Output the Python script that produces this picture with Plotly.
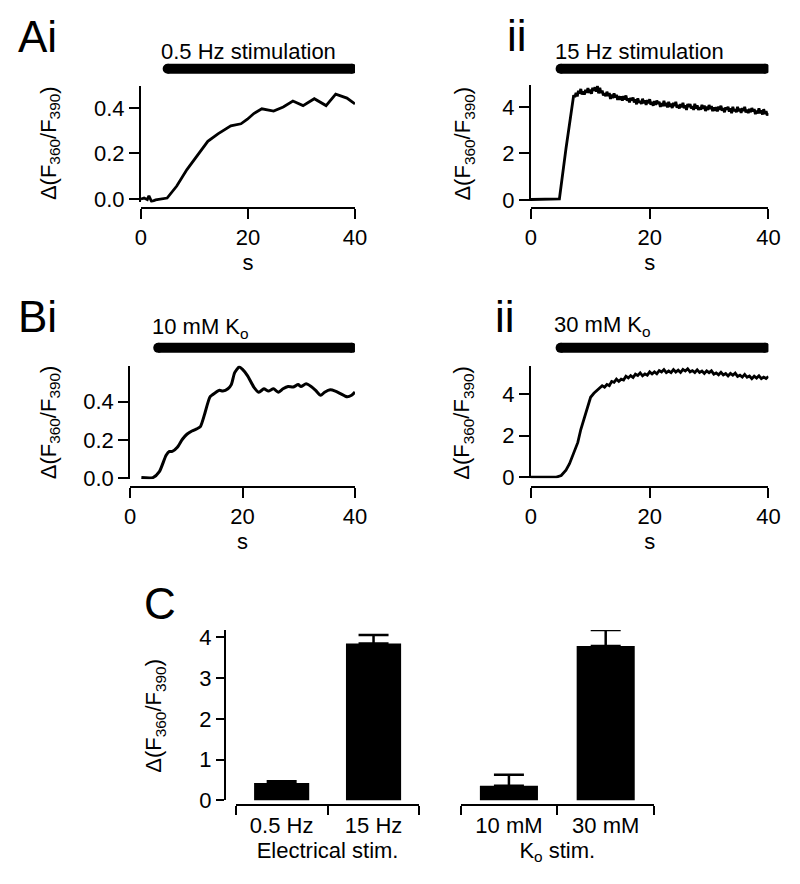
import plotly.graph_objects as go

# ---------------- data ----------------
# Ai: 0.5 Hz stimulation
t_ai = [0.0, 0.6, 1.2, 1.5, 2.0, 2.75, 4.9, 6.7, 8.6, 10.7, 12.5, 14.4, 15.3, 16.8, 18.7,
        19.9, 21.1, 22.6, 24.8, 26.6, 28.4, 30.3, 32.4, 34.6, 36.4, 38.5, 40.0]
v_ai = [0.0, 0.004, -0.003, 0.014, -0.011, -0.004, 0.004, 0.057, 0.129, 0.193, 0.253, 0.286,
        0.30, 0.321, 0.33, 0.35, 0.375, 0.396, 0.386, 0.404, 0.43, 0.41, 0.44, 0.41, 0.46,
        0.443, 0.417]

# Aii: 15 Hz stimulation
t_aii = [0.0, 1.0, 2.0, 3.0, 4.0, 4.8, 5.9,
         7.2, 7.4, 7.6, 7.8, 8.0, 8.2, 8.4, 8.6, 8.8, 9.0, 9.2, 9.4, 9.6, 9.8, 10.0, 10.2,
         10.4, 10.6, 10.8, 11.0, 11.2, 11.4, 11.6, 11.8, 12.0, 12.2, 12.4, 12.6, 12.8, 13.0,
         13.2, 13.4, 13.6, 13.8, 14.0, 14.2, 14.4, 14.6, 14.8, 15.0, 15.2, 15.4, 15.6, 15.8,
         16.0, 16.2, 16.4, 16.6, 16.8, 17.0, 17.2, 17.4, 17.6, 17.8, 18.0, 18.2, 18.4, 18.6,
         18.8, 19.0, 19.2, 19.4, 19.6, 19.8, 20.0, 20.2, 20.4, 20.6, 20.8, 21.0, 21.2, 21.4,
         21.6, 21.8, 22.0, 22.2, 22.4, 22.6, 22.8, 23.0, 23.2, 23.4, 23.6, 23.8, 24.0, 24.2,
         24.4, 24.6, 24.8, 25.0, 25.2, 25.4, 25.6, 25.8, 26.0, 26.2, 26.4, 26.6, 26.8, 27.0,
         27.2, 27.4, 27.6, 27.8, 28.0, 28.2, 28.4, 28.6, 28.8, 29.0, 29.2, 29.4, 29.6, 29.8,
         30.0, 30.2, 30.4, 30.6, 30.8, 31.0, 31.2, 31.4, 31.6, 31.8, 32.0, 32.2, 32.4, 32.6,
         32.8, 33.0, 33.2, 33.4, 33.6, 33.8, 34.0, 34.2, 34.4, 34.6, 34.8, 35.0, 35.2, 35.4,
         35.6, 35.8, 36.0, 36.2, 36.4, 36.6, 36.8, 37.0, 37.2, 37.4, 37.6, 37.8, 38.0, 38.2,
         38.4, 38.6, 38.8, 39.0, 39.2, 39.4, 39.6, 39.8, 40.0]
v_aii = [0.02, 0.03, 0.04, 0.04, 0.05, 0.05, 2.2,
         4.50, 4.42, 4.60, 4.45, 4.69, 4.58, 4.77, 4.53, 4.66, 4.53, 4.73, 4.61, 4.81, 4.60,
         4.74, 4.56, 4.82, 4.70, 4.84, 4.66, 4.90, 4.58, 4.82, 4.60, 4.70, 4.49, 4.59, 4.46,
         4.65, 4.47, 4.60, 4.34, 4.53, 4.38, 4.58, 4.41, 4.52, 4.30, 4.46, 4.30,
         4.45, 4.27, 4.46, 4.32, 4.49, 4.27, 4.36, 4.19, 4.39, 4.28, 4.40, 4.19, 4.32, 4.11,
         4.37, 4.18, 4.25, 4.13, 4.35, 4.16, 4.28, 4.08, 4.29, 4.16, 4.33, 4.09, 4.21, 4.05,
         4.25, 4.09, 4.27, 4.13, 4.22, 4.00, 4.16, 4.03, 4.26, 4.04, 4.17, 3.98,
         4.22, 4.01, 4.14, 3.95, 4.17, 4.04, 4.22, 3.96, 4.08, 3.93, 4.12, 3.98, 4.17, 3.94,
         4.07, 3.87, 4.12, 3.99, 4.12, 3.93, 4.03, 3.87, 4.13, 3.93, 4.06, 3.87, 3.98, 3.88,
         4.09, 3.92, 4.06, 3.82, 4.01, 3.87, 4.08, 3.91, 4.03, 3.82, 3.98, 3.83,
         3.99, 3.81, 4.01, 3.88, 4.05, 3.84, 3.94, 3.77, 3.98, 3.88, 4.00, 3.80, 3.94, 3.73,
         4.00, 3.82, 3.89, 3.77, 4.00, 3.81, 3.93, 3.74, 3.95, 3.82, 4.00, 3.76, 3.88, 3.73,
         3.92, 3.77, 3.95, 3.81, 3.90, 3.69, 3.84, 3.72, 3.94, 3.73, 3.85, 3.67,
         3.90, 3.70, 3.82, 3.63, 3.74]

# Bi: 10 mM Ko
t_bi = [2.0, 4.06, 5.2, 6.4, 7.0, 7.5, 8.4, 9.3, 10.1, 11.0, 11.9, 12.5, 13.3, 14.2, 15.1,
        15.9, 16.5, 17.4, 18.0, 18.6, 19.4, 20.0, 20.9, 22.0, 22.9, 23.8, 24.6, 25.5, 26.4,
        27.2, 28.1, 29.0, 29.9, 30.4, 31.3, 32.2, 33.0, 33.9, 34.6, 35.6, 36.5, 37.4, 38.6,
        39.4, 40.0]
v_bi = [0.003, 0.003, 0.034, 0.12, 0.14, 0.14, 0.162, 0.204, 0.23, 0.247, 0.259, 0.27, 0.34,
        0.425, 0.446, 0.46, 0.456, 0.468, 0.49, 0.553, 0.582, 0.57, 0.536, 0.477, 0.45, 0.468,
        0.456, 0.468, 0.45, 0.468, 0.48, 0.477, 0.49, 0.48, 0.494, 0.48, 0.46, 0.434, 0.45,
        0.463, 0.456, 0.443, 0.426, 0.434, 0.451]

# Bii: 30 mM Ko
t_bii = [0.0, 1.0, 2.0, 3.0, 4.0, 4.3, 5.1, 5.9, 6.5, 7.3, 7.9, 8.4, 9.0, 9.5, 10.05, 10.6,
         11.4,
         12.0, 12.4, 12.8, 13.2, 13.6, 14.0, 14.4, 14.8, 15.2, 15.6, 16.0, 16.4, 16.8, 17.2,
         17.6, 18.0, 18.4, 18.8, 19.2, 19.6, 20.0, 20.4, 20.8, 21.2, 21.6, 22.0, 22.4, 22.8,
         23.2, 23.6, 24.0, 24.4, 24.8, 25.2, 25.6, 26.0, 26.4, 26.8, 27.2, 27.6, 28.0, 28.4,
         28.8, 29.2, 29.6, 30.0, 30.4, 30.8, 31.2, 31.6, 32.0, 32.4, 32.8, 33.2, 33.6, 34.0,
         34.4, 34.8, 35.2, 35.6, 36.0, 36.4, 36.8, 37.2, 37.6, 38.0, 38.4, 38.8, 39.2, 39.6,
         40.0]
v_bii = [0.0, 0.0, 0.0, 0.0, 0.0, 0.0, 0.08, 0.34, 0.65, 1.2, 1.67, 2.29, 2.83, 3.38, 3.84,
         4.03, 4.23,
         4.39, 4.32, 4.45, 4.40, 4.60, 4.56, 4.71, 4.60, 4.71, 4.67, 4.85, 4.77, 4.88, 4.79,
         4.95, 4.89, 5.01, 4.87, 4.96, 4.90, 5.06, 4.96, 5.06, 4.97, 5.12, 5.05, 5.17, 5.02,
         5.10, 5.02, 5.17, 5.05, 5.14, 5.03, 5.18, 5.10, 5.21, 5.06, 5.12, 5.03, 5.16, 5.03,
         5.10, 4.98, 5.11, 5.02, 5.11, 4.95, 5.01, 4.92, 5.04, 4.91, 4.98, 4.86, 4.99, 4.90,
         5.00, 4.84, 4.90, 4.81, 4.94, 4.80, 4.86, 4.73, 4.85, 4.76, 4.87, 4.73, 4.81, 4.74,
         4.84]

# C: summary bars
elec_cats = ["0.5 Hz", "15 Hz"]
elec_means = [0.43, 3.85]
elec_err = [0.04, 0.21]
ko_cats = ["10 mM", "30 mM"]
ko_means = [0.36, 3.79]
ko_err = [0.27, 0.39]

stim_on = 5.0
stim_off = 39.5
stim_labels = ["0.5 Hz stimulation", "15 Hz stimulation",
               "10 mM K<sub>o</sub>", "30 mM K<sub>o</sub>"]
panel_letters = ["Ai", "ii", "Bi", "ii", "C"]
ytitle = "\u0394(F<sub>360</sub>/F<sub>390</sub>)"

# ---------------- layout helpers ----------------
W, H = 800, 884
FONT = "Liberation Sans, Arial, Helvetica, sans-serif"


def X(px):
    return px / W


def Y(py):
    return 1 - py / H


fig = go.Figure()

fig.add_trace(go.Scatter(x=t_ai, y=v_ai, mode="lines", line=dict(color="black", width=2.8),
                         xaxis="x", yaxis="y"))
fig.add_trace(go.Scatter(x=t_aii, y=v_aii, mode="lines", line=dict(color="black", width=2.8),
                         xaxis="x2", yaxis="y2"))
fig.add_trace(go.Scatter(x=t_bi, y=v_bi, mode="lines",
                         line=dict(color="black", width=3, shape="spline", smoothing=0.6),
                         xaxis="x3", yaxis="y3"))
fig.add_trace(go.Scatter(x=t_bii, y=v_bii, mode="lines", line=dict(color="black", width=2.8),
                         xaxis="x4", yaxis="y4"))

err_style = dict(type="data", symmetric=False, color="black", thickness=2.5, width=15)
fig.add_trace(go.Bar(x=elec_cats, y=elec_means, width=0.6,
                     marker=dict(color="black", line=dict(width=0)),
                     error_y=dict(array=elec_err, arrayminus=[0, 0], **err_style),
                     xaxis="x5", yaxis="y5"))
fig.add_trace(go.Bar(x=ko_cats, y=ko_means, width=0.6,
                     marker=dict(color="black", line=dict(width=0)),
                     error_y=dict(array=ko_err, arrayminus=[0, 0], **err_style),
                     xaxis="x6", yaxis="y6"))

axis_common = dict(showline=True, linecolor="black", linewidth=2, ticks="outside",
                   tickcolor="black", tickwidth=2, showgrid=False, zeroline=False,
                   tickfont=dict(size=22, color="black", family=FONT))

# panel geometry in pixels: (x_left, x_right, y_top, y_bottom, xaxis_line_y, yrange)
panels = [
    (138, 357, 83, 201.5, 207, [-0.015, 0.4946], [0, 0.2, 0.4], ".1f"),
    (537, 780, 82, 200, 207, [-0.042, 4.926], [0, 2, 4], "d"),
    (127, 357, 368, 484, 492, [-0.005, 0.59], [0, 0.2, 0.4], ".1f"),
    (537, 780, 368, 483, 492, [-0.047, 5.365], [0, 2, 4], "d"),
]
for i, (xl, xr, yt, yb, xline, yr, yt_vals, fmt) in enumerate(panels):
    n = "" if i == 0 else str(i + 1)
    fig.layout["xaxis" + n] = dict(
        domain=[X(xl), X(xr)], range=[0, 40], anchor="free", position=Y(xline),
        tickvals=[0, 20, 40], ticklen=10,
        title=dict(text="s", font=dict(size=22, color="black", family=FONT), standoff=4),
        **axis_common)
    fig.layout["yaxis" + n] = dict(
        domain=[Y(yb), Y(yt)], range=yr, anchor="x" + n, tickvals=yt_vals, tickformat=fmt,
        ticklen=10, **axis_common)

# panel C axes
fig.layout["yaxis5"] = dict(domain=[Y(812), Y(638)], range=[0, 4.18], anchor="free",
                            position=X(224), tickvals=[0, 1, 2, 3, 4], ticklen=8, **axis_common)
fig.layout["yaxis6"] = dict(domain=[Y(812), Y(638)], range=[0, 4.18], anchor="free",
                            position=X(224), overlaying="y5", visible=False)
fig.layout["xaxis5"] = dict(domain=[X(235), X(423)], anchor="free", position=Y(817),
                            type="category", tickson="boundaries", ticklen=9,
                            title=dict(text="Electrical stim.",
                                       font=dict(size=22, color="black", family=FONT), standoff=4),
                            **axis_common)
fig.layout["xaxis6"] = dict(domain=[X(465), X(663)], anchor="free", position=Y(817),
                            type="category", tickson="boundaries", ticklen=9,
                            title=dict(text="K<sub>o</sub> stim.",
                                       font=dict(size=22, color="black", family=FONT), standoff=4),
                            **axis_common)

# stimulation bars
shapes = []
for xref, ypx in [("x", 65), ("x2", 65), ("x3", 350), ("x4", 350)]:
    shapes.append(dict(type="line", xref=xref, yref="paper", x0=stim_on, x1=stim_off,
                       y0=Y(ypx), y1=Y(ypx), line=dict(color="black", width=10)))
    for xa in (stim_on, stim_off):
        shapes.append(dict(type="circle", xref=xref, yref="paper", xsizemode="pixel",
                           ysizemode="pixel", xanchor=xa, yanchor=Y(ypx), x0=-5, x1=5,
                           y0=-5, y1=5, fillcolor="black", line=dict(width=0)))
fig.update_layout(shapes=shapes)

annotations = []
# stimulation labels
for text, (xpx, ypx) in zip(stim_labels, [(157, 47), (560, 47), (147, 330), (559, 328)]):
    annotations.append(dict(text=text, x=X(xpx), y=Y(ypx), xref="paper", yref="paper",
                            xanchor="left", yanchor="middle", showarrow=False,
                            font=dict(size=22, color="black", family=FONT)))
# panel letters
for text, (xpx, ypx) in zip(panel_letters, [(10, 32), (510, 31), (10, 318), (498, 318), (139, 611)]):
    annotations.append(dict(text=text, x=X(xpx), y=Y(ypx), xref="paper", yref="paper",
                            xanchor="left", yanchor="middle", showarrow=False,
                            font=dict(size=44, color="black", family=FONT)))
# y titles
for xpx, ypx in [(45, 141), (469, 141), (45, 426), (468, 426), (153, 726)]:
    annotations.append(dict(text=ytitle, x=X(xpx), y=Y(ypx), xref="paper", yref="paper",
                            xanchor="center", yanchor="middle", textangle=-90, showarrow=False,
                            font=dict(size=22, color="black", family=FONT)))
fig.update_layout(annotations=annotations)

fig.update_layout(width=W, height=H, margin=dict(l=0, r=0, t=0, b=0),
                  paper_bgcolor="white", plot_bgcolor="white", showlegend=False,
                  font=dict(family=FONT, color="black"))

fig.write_html(
    "out.html",
    config={"displayModeBar": False},
    post_script=(
        "document.documentElement.style.margin='0';"
        "document.documentElement.style.overflow='hidden';"
        "document.body.style.margin='0';"
        "document.body.style.overflow='hidden';"
    ),
)
